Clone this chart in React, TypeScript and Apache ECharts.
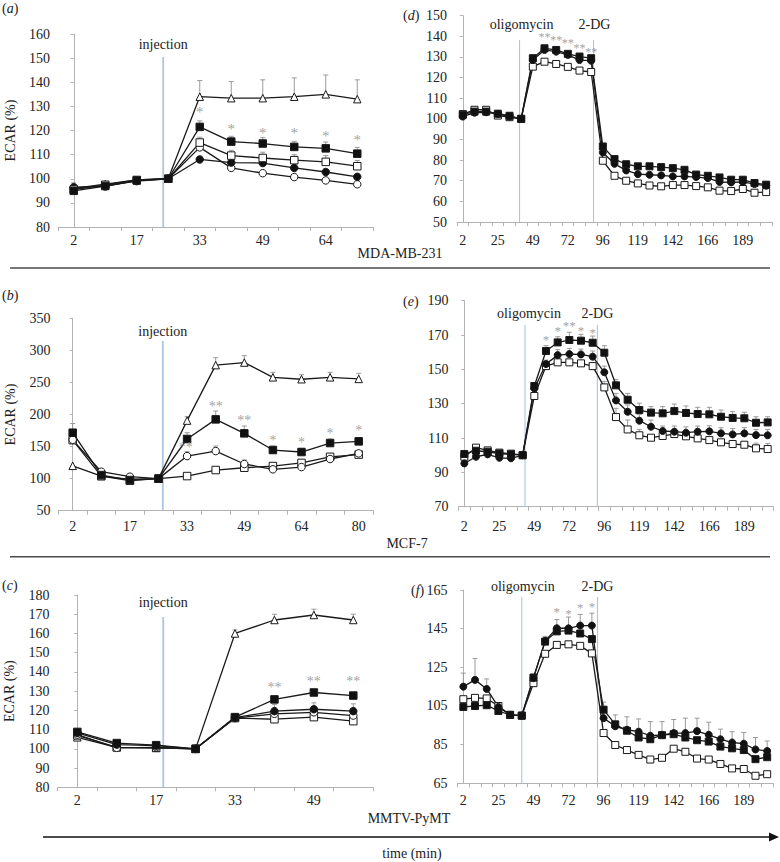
import React, { useEffect, useRef } from "react";
import * as echarts from "echarts";

const FONT = "'Liberation Serif', 'Times New Roman', serif";

// ---------- categories (time, min) ----------
const catsA = ["2", "10", "17", "25", "33", "41", "49", "56", "64", "72"];
const catsB = ["2", "10", "17", "25", "33", "41", "49", "56", "64", "72", "80"];
const catsC = ["2", "10", "17", "25", "33", "41", "49", "56"];
const catsR = ["2", "10", "18", "25", "33", "41", "49", "57", "64", "72", "80", "88", "96", "103", "111", "119", "127", "135", "142", "150", "158", "166", "174", "181", "189", "197", "205"];

// ---------- panel (a) MDA-MB-231 injection ----------
const triA = [96, 97.8, 99.5, 100, 134, 133.4, 133.4, 134, 135, 133];
const triAerr = [null, null, null, null, 140.7, 140.3, 141, 141.8, 143, 141];
const fsqA = [95, 97, 99.3, 100, 121.5, 115.4, 114.6, 113.2, 112.6, 110.4];
const fsqAerr = [98.3, null, null, null, 124, 117.6, 117, 115.5, 115.2, 113];
const osqA = [95.5, 97.5, 99.5, 100, 115, 109.6, 108.6, 107.7, 107, 105.2];
const osqAerr = [null, null, null, null, 117.2, 111.8, 111, 110, 109.6, 107.6];
const fciA = [96.5, 96.8, 99.2, 100, 108, 106.7, 106.5, 104.5, 102.8, 100.8];
const ociA = [96, 97.2, 99, 100, 113, 104.5, 102.3, 100.7, 99.3, 97.7];
const starXA = [4, 5, 6, 7, 8, 9];
const starYA = [127.5, 120.7, 119, 118.8, 117.9, 116];
const starTA = ["*", "*", "*", "*", "*", "*"];

// ---------- panel (b) MCF-7 injection ----------
const triB = [120, 104, 99, 100, 190.5, 277, 281, 258, 255, 258, 255.5];
const triBerr = [null, null, null, null, 196.6, 288.6, 291.8, 265.8, 262, 265.8, 264.2];
const fsqB = [171.6, 105.6, 97.8, 100, 161.8, 192.4, 170.6, 144.6, 141.5, 155.5, 158.1];
const fsqBerr = [186, null, null, null, 171.6, 205.4, 182, 150.8, 147.2, 161.8, 163.8];
const ociB = [160.5, 110.8, 103, 100, 135.2, 143, 122.8, 114.5, 118, 130.6, 139.4];
const ociBerr = [null, null, null, null, 142, 150.8, 129, null, null, 135.8, null];
const osqB = [160, 104, 96.8, 100, 104, 113.4, 117, 119.6, 124.5, 134, 137.5];
const starXB = [3.95, 5, 6, 7, 8, 9, 10];
const starYB = [148.8, 212.2, 191.4, 160.2, 156, 170.6, 175.8];
const starTB = ["**", "**", "**", "*", "*", "*", "*"];

// ---------- panel (c) MMTV-PyMT injection ----------
const triC = [106, 100.8, 100.5, 100, 160, 167, 169.6, 167];
const triCerr = [null, null, null, null, 161.8, 170, 172.6, 170];
const fsqC = [108.8, 103, 101.9, 100, 116.5, 125.7, 129.3, 127.7];
const fsqCerr = [null, null, null, null, null, 126.7, 130.5, 128.8];
const fciC = [108.3, 102.2, 101.7, 100, 116.2, 119.6, 120.6, 119.6];
const fciCerr = [null, null, null, null, null, 123, 123.9, 123.4];
const ociC = [107.4, 100.5, 100.8, 100, 116, 118.2, 119, 117.3];
const osqC = [107, 100.8, 100.5, 100, 116, 115.4, 116.5, 114.4];
const starXC = [5, 6, 7];
const starYC = [131.7, 135.2, 135.2];
const starTC = ["**", "**", "**"];

// ---------- panel (d) MDA-MB-231 stress test ----------
const fsqD = [102, 103.5, 103.5, 102.5, 101.5, 100, 129.4, 134.2, 133.4, 131.5, 130.2, 129.4, 86.6, 80.5, 78, 77, 77, 76.6, 76.1, 75.3, 73, 72.4, 71.6, 70.5, 70.5, 68.9, 68.1];
const fciD = [101.1, 103, 103.2, 102.4, 101.1, 100, 128.5, 133.4, 132.6, 131, 128.5, 128.2, 83.7, 78.2, 75, 73.2, 72.9, 72.6, 72.1, 72.1, 71.8, 71.3, 69.4, 69.2, 69.4, 68.4, 67.6];
const osqD = [102.3, 104.4, 104.4, 101.6, 100.8, 100, 125.3, 127.7, 126.6, 125.2, 123.4, 122.7, 79.7, 72.4, 70, 68.7, 67.7, 67.3, 67.9, 67.9, 67.4, 66.8, 65.2, 65, 66, 64.2, 64.5];
const starXD = [7, 8, 9, 10, 11];
const starYD = [139.6, 138, 136.6, 134.5, 132.6];
const starTD = ["**", "**", "**", "**", "**"];

// ---------- panel (e) MCF-7 stress test ----------
const fsqE = [100.7, 102.6, 102, 101, 100.5, 100, 140.3, 160.7, 165.7, 167.1, 166.7, 165.5, 159.7, 140.7, 132.3, 126.3, 124.8, 124.4, 125.7, 124.6, 124, 123.8, 122.4, 121.7, 121.5, 118.9, 119.1];
const fsqEerr = [null, null, null, null, null, null, 142, 163.8, 169, 171.6, 170.4, 169.4, 163.8, 144.2, 136, 130.3, 128.3, 128.3, 129.8, 128.7, 127.9, 127.9, 126.3, 125.4, 125, 122.4, 122.4];
const fciE = [95.2, 99.1, 100.5, 98.5, 98.2, 100, 138.9, 153.1, 158.3, 158.9, 158.7, 157.4, 148.3, 131.9, 125.3, 120.1, 116.6, 114.1, 113.7, 113.1, 113.7, 113.9, 112.7, 112.1, 112.7, 111.7, 111.6];
const fciEerr = [null, null, null, null, null, null, 141, 155.4, 161.5, 162.2, 161.8, 160.7, 151.9, 136, 129.3, 123.8, 120.5, 117, 117, 116.5, 117, 117.2, 116, 115.5, 116, 115, 115];
const osqE = [99.1, 104.4, 102.8, 101.5, 100.9, 100, 134.5, 151.9, 154.1, 154.1, 153.5, 151.9, 139.5, 122.2, 115, 111.6, 110.2, 111.2, 112.3, 111, 109.8, 108.8, 107.5, 106.5, 106.1, 104, 103.6];
const osqEerr = [null, null, null, null, null, null, null, null, null, null, null, null, 143, 127.3, 120.5, 115, null, null, null, null, null, null, null, null, null, 107, 106.8];
const starXE = [7, 8, 9, 10, 11];
const starYE = [167.5, 172.9, 175.8, 172.9, 171.4];
const starTE = ["*", "*", "**", "*", "*"];

// ---------- panel (f) MMTV-PyMT stress test ----------
const fciF = [115, 118.5, 113.8, 104.5, 100.4, 100, 119.4, 138.7, 145.2, 145.2, 146.6, 146.6, 98.7, 94.5, 92.7, 91.7, 89.6, 90.1, 91, 91, 92, 90.1, 87.8, 86.1, 85.5, 82.5, 81.7];
const fciFerr = [122, 129.6, 119, null, null, null, 121.5, 141, 149.7, 151, 152.4, 153, 107, 100.4, 99.4, 98.3, 96.9, 96.9, 98, 98.7, 98.7, 96.6, 93, 91.7, 91.3, 88.7, 86.9];
const fsqF = [104.5, 105, 105.4, 102.4, 100.4, 100, 119.7, 138.3, 143.6, 144, 142.5, 139.6, 103.1, 95.5, 92.2, 88.7, 87.8, 89.9, 90.4, 88.7, 87.3, 86.6, 84, 83.1, 82.2, 77.5, 78.5];
const osqF = [108.5, 109.2, 108.9, 105, 100.4, 100, 116.8, 132, 136.6, 136.9, 136.1, 132.2, 91, 84.8, 82.2, 79.7, 77.3, 78.2, 82.9, 81.3, 77.8, 77.3, 75, 72.7, 72.4, 68.9, 69.7];
const starXF = [8, 9, 10, 11];
const starYF = [154, 153, 155.9, 156.6];
const starTF = ["*", "*", "*", "*"];

// ---------- annotation lines (category position, top value, label) ----------
const annA = [{ x: 2.84, top: 150.5, label: "injection" }];
const annB = [{ x: 3.15, top: 314.6, label: "injection" }];
const annC = [{ x: 2.18, top: 168.6, label: "injection" }];
const annD = [{ x: 4.86, top: 138.2, label: "oligomycin" }, { x: 11.2, top: 138.2, label: "2-DG" }];
const annE = [{ x: 5.2, top: 175.8, label: "oligomycin" }, { x: 11.4, top: 175.8, label: "2-DG" }];
const annF = [{ x: 5.0, top: 161.4, label: "oligomycin" }, { x: 11.48, top: 161.4, label: "2-DG" }];

type Kind = "triOpen" | "sqFilled" | "sqOpen" | "ciFilled" | "ciOpen";
const KIND: Record<Kind, { symbol: string; fill: string }> = {
  triOpen: { symbol: "triangle", fill: "#ffffff" },
  sqFilled: { symbol: "rect", fill: "#111111" },
  sqOpen: { symbol: "rect", fill: "#ffffff" },
  ciFilled: { symbol: "circle", fill: "#111111" },
  ciOpen: { symbol: "circle", fill: "#ffffff" },
};

interface Grp { kind: Kind; values: number[]; err?: (number | null)[] }
interface Panel {
  grid: { left: number; top: number; width: number; height: number };
  cats: string[];
  yMin: number; yMax: number; yInterval: number; yCustom?: number[];
  labelInterval: number; xMargin: number; yMargin: number; yName: boolean;
  symbolSize: number;
  groups: Grp[];
  starX: number[]; starY: number[]; starT: string[]; starFont: number;
  ann: { x: number; top: number; label: string }[];
  annGap: number; annWidth: number; annDx: number[];
}

const panels: Panel[] = [
  {
    grid: { left: 58, top: 34, width: 315, height: 193 }, cats: catsA,
    yMin: 80, yMax: 160, yInterval: 10, labelInterval: 1, xMargin: 6, yMargin: 8, yName: true, symbolSize: 7.5,
    groups: [
      { kind: "triOpen", values: triA, err: triAerr },
      { kind: "ciOpen", values: ociA },
      { kind: "ciFilled", values: fciA },
      { kind: "sqOpen", values: osqA, err: osqAerr },
      { kind: "sqFilled", values: fsqA, err: fsqAerr },
    ],
    starX: starXA, starY: starYA, starT: starTA, starFont: 15,
    ann: annA, annGap: 12, annWidth: 1.8, annDx: [0],
  },
  {
    grid: { left: 58.4, top: 318.3, width: 314.6, height: 192.4 }, cats: catsB,
    yMin: 50, yMax: 350, yInterval: 50, labelInterval: 1, xMargin: 9, yMargin: 8, yName: true, symbolSize: 7.5,
    groups: [
      { kind: "triOpen", values: triB, err: triBerr },
      { kind: "sqOpen", values: osqB },
      { kind: "ciOpen", values: ociB, err: ociBerr },
      { kind: "sqFilled", values: fsqB, err: fsqBerr },
    ],
    starX: starXB, starY: starYB, starT: starTB, starFont: 14,
    ann: annB, annGap: 9.5, annWidth: 1.8, annDx: [0],
  },
  {
    grid: { left: 57.6, top: 595, width: 315.4, height: 192.3 }, cats: catsC,
    yMin: 80, yMax: 180, yInterval: 10, labelInterval: 1, xMargin: 6, yMargin: 8, yName: true, symbolSize: 7.5,
    groups: [
      { kind: "triOpen", values: triC, err: triCerr },
      { kind: "sqOpen", values: osqC },
      { kind: "ciOpen", values: ociC },
      { kind: "ciFilled", values: fciC, err: fciCerr },
      { kind: "sqFilled", values: fsqC, err: fsqCerr },
    ],
    starX: starXC, starY: starYC, starT: starTC, starFont: 14,
    ann: annC, annGap: 14, annWidth: 1.8, annDx: [0],
  },
  {
    grid: { left: 457, top: 15.7, width: 315, height: 206.3 }, cats: catsR,
    yMin: 50, yMax: 150, yInterval: 10, labelInterval: 2, xMargin: 11, yMargin: 10, yName: false, symbolSize: 7,
    groups: [
      { kind: "sqOpen", values: osqD },
      { kind: "ciFilled", values: fciD },
      { kind: "sqFilled", values: fsqD },
    ],
    starX: starXD, starY: starYD, starT: starTD, starFont: 12,
    ann: annD, annGap: 16, annWidth: 1.1, annDx: [2, 1],
  },
  {
    grid: { left: 458.5, top: 300.7, width: 315, height: 206 }, cats: catsR,
    yMin: 70, yMax: 190, yInterval: 20, labelInterval: 2, xMargin: 13, yMargin: 10, yName: false, symbolSize: 7,
    groups: [
      { kind: "sqOpen", values: osqE, err: osqEerr },
      { kind: "ciFilled", values: fciE, err: fciEerr },
      { kind: "sqFilled", values: fsqE, err: fsqEerr },
    ],
    starX: starXE, starY: starYE, starT: starTE, starFont: 13,
    ann: annE, annGap: 12, annWidth: 1.1, annDx: [4, 0],
  },
  {
    grid: { left: 457.5, top: 590, width: 315.5, height: 193.3 }, cats: catsR,
    yMin: 65, yMax: 165, yInterval: 20, yCustom: [65, 85, 105, 125, 145, 165], labelInterval: 2, xMargin: 10, yMargin: 10, yName: false, symbolSize: 7,
    groups: [
      { kind: "sqOpen", values: osqF },
      { kind: "sqFilled", values: fsqF },
      { kind: "ciFilled", values: fciF, err: fciFerr },
    ],
    starX: starXF, starY: starYF, starT: starTF, starFont: 13,
    ann: annF, annGap: 10, annWidth: 1.1, annDx: [1, 0],
  },
];

const AXIS_GRAY = "#b3b3b3";
const TEXT = "#222222";
const ERR = "#9a9a9a";
const STAR = "#8a8a8a";
const ANN = "#a9c6e3";

function buildOption() {
  const grid: any[] = [];
  const xAxis: any[] = [];
  const yAxis: any[] = [];
  const series: any[] = [];

  panels.forEach((p, i) => {
    grid.push({ ...p.grid, containLabel: false });
    xAxis.push({
      type: "category", gridIndex: i, data: p.cats, boundaryGap: true,
      axisLine: { show: true, lineStyle: { color: AXIS_GRAY, width: 1 } },
      axisTick: { show: true, interval: 0, length: 4, lineStyle: { color: AXIS_GRAY } },
      axisLabel: { interval: p.labelInterval, color: TEXT, fontFamily: FONT, fontSize: 14, margin: p.xMargin },
      splitLine: { show: false },
    });
    xAxis.push({
      type: "value", gridIndex: i, min: -0.5, max: p.cats.length - 0.5, show: false,
      splitLine: { show: false },
    });
    const yLabel: any = { color: TEXT, fontFamily: FONT, fontSize: 14, margin: p.yMargin };
    const yTick: any = { show: true, length: 3, lineStyle: { color: AXIS_GRAY } };
    if (p.yCustom) {
      yLabel.customValues = p.yCustom;
      yTick.customValues = p.yCustom;
    }
    yAxis.push({
      type: "value", gridIndex: i, min: p.yMin, max: p.yMax, interval: p.yInterval,
      axisLine: { show: true, lineStyle: { color: AXIS_GRAY, width: 1 } },
      axisTick: yTick,
      axisLabel: yLabel,
      splitLine: { show: false },
      name: p.yName ? "ECAR (%)" : "",
      nameLocation: "middle", nameGap: 41, nameRotate: 90,
      nameTextStyle: { color: TEXT, fontFamily: FONT, fontSize: 14 },
    });

    const catAxis = 2 * i;
    const valAxis = 2 * i + 1;

    // annotation lines with labels
    const ann = p.ann;
    series.push({
      type: "custom", xAxisIndex: valAxis, yAxisIndex: i, z: 1, silent: true,
      itemStyle: { color: TEXT },
      data: ann.map((a) => [a.x, a.top]),
      renderItem: (params: any, api: any) => {
        const a = ann[params.dataIndex];
        const top = api.coord([api.value(0), api.value(1)]);
        const bot = api.coord([api.value(0), p.yMin]);
        return {
          type: "group",
          children: [
            { type: "line", shape: { x1: top[0], y1: top[1], x2: bot[0], y2: bot[1] }, style: { stroke: ANN, lineWidth: p.annWidth } },
            {
              type: "text", x: top[0] + (p.annDx[params.dataIndex] || 0), y: top[1] - p.annGap,
              style: { text: a.label, fill: TEXT, font: `14px ${FONT}`, align: "center", verticalAlign: "middle" },
            },
          ],
        };
      },
    });

    // error bars
    p.groups.forEach((g) => {
      if (!g.err) return;
      const data = g.err
        .map((t, k) => (t == null ? null : [k, g.values[k], t]))
        .filter((d) => d !== null);
      series.push({
        type: "custom", xAxisIndex: catAxis, yAxisIndex: i, z: 2, silent: true,
        itemStyle: { color: ERR },
        data,
        renderItem: (_params: any, api: any) => {
          const p0 = api.coord([api.value(0), api.value(1)]);
          const p1 = api.coord([api.value(0), api.value(2)]);
          return {
            type: "group",
            children: [
              { type: "line", shape: { x1: p0[0], y1: p0[1], x2: p1[0], y2: p1[1] }, style: { stroke: ERR, lineWidth: 1 } },
              { type: "line", shape: { x1: p1[0] - 2.5, y1: p1[1], x2: p1[0] + 2.5, y2: p1[1] }, style: { stroke: ERR, lineWidth: 1 } },
            ],
          };
        },
      });
    });

    // data lines
    p.groups.forEach((g) => {
      const k = KIND[g.kind];
      series.push({
        type: "line", xAxisIndex: catAxis, yAxisIndex: i, z: 3, silent: true,
        data: g.values, symbol: k.symbol, symbolSize: p.symbolSize, showAllSymbol: true,
        lineStyle: { color: "#1a1a1a", width: 1.3 },
        itemStyle: { color: k.fill, borderColor: "#1a1a1a", borderWidth: 1 },
      });
    });

    // significance stars (scatter labels)
    const st = p.starT;
    series.push({
      type: "scatter", xAxisIndex: valAxis, yAxisIndex: i, z: 4, silent: true,
      symbol: "circle", symbolSize: 1,
      itemStyle: { color: "rgba(255,255,255,0)" },
      data: p.starX.map((x, k) => [x, p.starY[k]]),
      label: {
        show: true, position: "inside",
        formatter: (params: any) => st[params.dataIndex],
        color: STAR, fontFamily: FONT, fontSize: p.starFont,
        textBorderWidth: 0,
      },
    });
  });

  const tFont = `14px ${FONT}`;
  const title = (x: number, y: number, letter: string) => ({
    type: "text", x, y,
    style: {
      text: `{p|(}{i|${letter}}{p|)}`, align: "left", verticalAlign: "middle", fill: TEXT,
      font: tFont,
      rich: {
        p: { fontFamily: FONT, fontSize: 14, fill: TEXT },
        i: { fontFamily: FONT, fontSize: 14, fontStyle: "italic", fill: TEXT },
      },
    },
  });
  const centerText = (x: number, y: number, text: string) => ({
    type: "text", x, y,
    style: { text, align: "center", verticalAlign: "middle", fill: TEXT, font: tFont },
  });

  const graphic = [
    title(2, 8, "a"), title(2, 295, "b"), title(2, 585, "c"),
    title(403, 15, "d"), title(403, 301, "e"), title(411, 590, "f"),
    centerText(400, 253, "MDA-MB-231"),
    centerText(407, 543, "MCF-7"),
    centerText(409, 818, "MMTV-PyMT"),
    centerText(412, 853, "time (min)"),
    { type: "line", shape: { x1: 10, y1: 268, x2: 770, y2: 268 }, style: { stroke: "#4a4a4a", lineWidth: 1.5 } },
    { type: "line", shape: { x1: 10, y1: 556.7, x2: 770, y2: 556.7 }, style: { stroke: "#4a4a4a", lineWidth: 1.5 } },
    { type: "line", shape: { x1: 43, y1: 837, x2: 772, y2: 837 }, style: { stroke: "#111", lineWidth: 1.5 } },
    { type: "polygon", shape: { points: [[779, 837], [769, 832.5], [769, 841.5]] }, style: { fill: "#111" } },
  ];

  return {
    animation: false,
    backgroundColor: "#ffffff",
    textStyle: { fontFamily: FONT },
    grid, xAxis, yAxis, series, graphic,
  };
}

export default function App() {
  const ref = useRef<HTMLDivElement>(null);
  useEffect(() => {
    if (!ref.current) return;
    const chart = echarts.init(ref.current, undefined, { renderer: "svg" });
    chart.setOption(buildOption() as any);
    return () => chart.dispose();
  }, []);
  return (
    <div
      ref={ref}
      style={{ position: "absolute", left: 0, top: 0, width: 780, height: 862, background: "#fff" }}
    />
  );
}
